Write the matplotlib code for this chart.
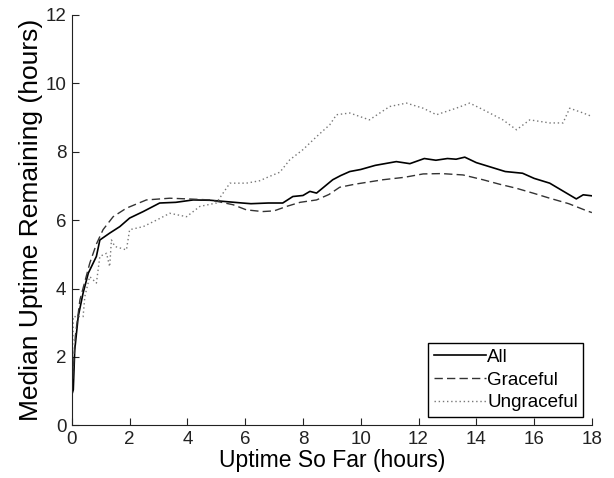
import matplotlib
matplotlib.use('Agg')
import matplotlib.pyplot as plt

plt.rcParams['font.family'] = ['Liberation Sans', 'DejaVu Sans']

# Median uptime remaining vs uptime so far
all_x = [0, 0.05, 0.1, 0.22, 0.39, 0.57, 0.85, 0.97, 1.31, 1.66, 2.0, 2.47, 3.04, 3.6,
         4.2, 4.8, 5.35, 5.9, 6.2, 6.8, 7.3, 7.65, 8.0, 8.24, 8.47, 8.7, 9.03, 9.3, 9.62,
         10.0, 10.5, 11.23, 11.7, 12.2, 12.6, 13.0, 13.3, 13.6, 14.0, 14.5, 15.0, 15.6,
         16.0, 16.54, 17.0, 17.46, 17.7, 18.0]
all_y = [0.9, 1.04, 2.2, 3.18, 3.87, 4.45, 4.94, 5.42, 5.62, 5.81, 6.06, 6.25, 6.5, 6.52,
         6.59, 6.58, 6.54, 6.5, 6.48, 6.5, 6.5, 6.69, 6.72, 6.84, 6.79, 6.95, 7.18, 7.3, 7.42,
         7.48, 7.6, 7.71, 7.65, 7.8, 7.75, 7.8, 7.78, 7.84, 7.68, 7.55, 7.42, 7.37,
         7.22, 7.08, 6.85, 6.62, 6.74, 6.71]

graceful_x = [0, 0.05, 0.12, 0.28, 0.45, 0.62, 0.85, 1.08, 1.43, 1.89, 2.58, 3.39, 4.0,
              4.78, 5.58, 6.04, 6.6, 7.0, 7.43, 7.9, 8.47, 8.9, 9.27, 9.8, 10.77, 11.5,
              12.16, 12.8, 13.54, 14.23, 14.8, 15.39, 16.0, 16.54, 17.2, 17.8, 18.0]
graceful_y = [1.0, 1.6, 2.6, 3.67, 4.2, 4.74, 5.3, 5.72, 6.1, 6.35, 6.59, 6.64, 6.62,
              6.59, 6.45, 6.3, 6.25, 6.27, 6.4, 6.52, 6.59, 6.75, 6.96, 7.05, 7.18, 7.25,
              7.35, 7.36, 7.32, 7.18, 7.05, 6.93, 6.78, 6.64, 6.48, 6.28, 6.22]

ungraceful_x = [0, 0.05, 0.39, 0.45, 0.62, 0.85, 0.97, 1.2, 1.31, 1.37, 1.49, 1.89, 2.0,
                2.47, 2.93, 3.39, 3.97, 4.43, 5.0, 5.47, 6.04, 6.5, 6.85, 7.2, 7.54, 8.0,
                8.47, 8.93, 9.16, 9.62, 10.3, 11.0, 11.58, 12.16, 12.62, 13.3, 13.77,
                14.23, 14.92, 15.39, 15.85, 16.54, 17.0, 17.23, 17.7, 18.0]
ungraceful_y = [0.9, 3.18, 3.18, 3.77, 4.35, 4.16, 4.94, 5.03, 4.64, 5.42, 5.23, 5.13, 5.72,
                5.81, 6.0, 6.2, 6.1, 6.4, 6.5, 7.08, 7.08, 7.15, 7.28, 7.4, 7.76, 8.06,
                8.44, 8.79, 9.08, 9.13, 8.93, 9.32, 9.42, 9.27, 9.08, 9.27, 9.42,
                9.23, 8.93, 8.64, 8.93, 8.84, 8.84, 9.27, 9.13, 9.03]

fig = plt.figure(figsize=(6.14, 4.78), dpi=100)
ax = fig.add_axes([0.117, 0.110, 0.847, 0.859])

ax.plot(all_x, all_y, color='black', linewidth=1.2, label='All')
ax.plot(graceful_x, graceful_y, color='#333333', linewidth=1.0, linestyle=(0, (6, 3)),
        label='Graceful')
ax.plot(ungraceful_x, ungraceful_y, color='#777777', linewidth=1.0, linestyle=(0, (1, 2)),
        label='Ungraceful')

ax.set_xlim(0, 18)
ax.set_ylim(0, 12)
ax.set_xticks(range(0, 19, 2))
ax.set_yticks(range(0, 13, 2))
ax.spines['top'].set_visible(False)
ax.spines['right'].set_visible(False)
ax.spines['left'].set_color('#222222')
ax.spines['bottom'].set_color('#222222')
ax.tick_params(direction='in', length=5, labelsize=13.5, colors='#222222', pad=4)
ax.set_xlabel('Uptime So Far (hours)', fontsize=16.5, labelpad=1)
ax.set_ylabel('Median Uptime Remaining (hours)', fontsize=19, labelpad=2)

leg = ax.legend(loc='lower right', fontsize=13.5, handlelength=2.8, handletextpad=0.05,
                labelspacing=0.3, borderpad=0.3, borderaxespad=0.45,
                fancybox=False, framealpha=1)
leg.get_frame().set_edgecolor('black')
leg.get_frame().set_linewidth(1.0)

plt.savefig('out.png', dpi=100)
